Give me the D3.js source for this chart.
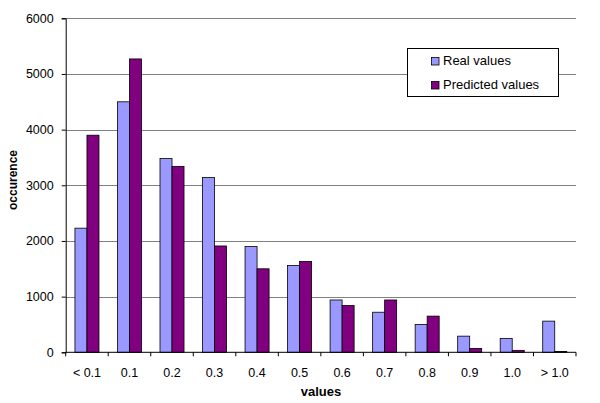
<!DOCTYPE html>
<html>
<head>
<meta charset="utf-8">
<script src="https://cdn.jsdelivr.net/npm/d3@7"></script>
<style>
  body { margin: 0; background: #fff; }
  svg { display: block; font-family: "Liberation Sans", Arial, sans-serif; }
</style>
</head>
<body>
<svg id="chart" width="600" height="403"></svg>
<script>
const categories = ["< 0.1", "0.1", "0.2", "0.3", "0.4", "0.5", "0.6", "0.7", "0.8", "0.9", "1.0", "> 1.0"];
const realValues = [2230, 4500, 3480, 3140, 1900, 1560, 940, 720, 500, 290, 250, 560];
const predictedValues = [3900, 5270, 3340, 1910, 1500, 1630, 840, 940, 650, 70, 35, 15];
const seriesNames = ["Real values", "Predicted values"];
const seriesColors = ["#9999FF", "#800080"];
const yTicks = [0, 1000, 2000, 3000, 4000, 5000, 6000];

const svg = d3.select("#chart");
const margin = { left: 65.7, right: 24, top: 18.3, bottom: 50.7 };
const W = 600, H = 403;
const x0 = margin.left, x1 = W - margin.right;
const yTop = margin.top, yBot = H - margin.bottom;

const x = d3.scaleBand().domain(categories).range([x0, x1]).paddingInner(0.435).paddingOuter(0.2175);
const xs = d3.scaleBand().domain(seriesNames).range([0, x.bandwidth()]);
const y = d3.scaleLinear().domain([0, 6000]).range([yBot, yTop]);

// gridlines
svg.append("g").selectAll("line").data(yTicks.filter(d => d > 0)).join("line")
  .attr("x1", x0).attr("x2", x1)
  .attr("y1", d => Math.round(y(d)) + 0.5).attr("y2", d => Math.round(y(d)) + 0.5)
  .attr("stroke", "#808080").attr("stroke-width", 1);

// bars
const series = [realValues, predictedValues];
series.forEach((vals, si) => {
  svg.append("g").selectAll("rect").data(vals).join("rect")
    .attr("x", (d, i) => x(categories[i]) + xs(seriesNames[si]))
    .attr("width", xs.bandwidth())
    .attr("y", d => y(d))
    .attr("height", d => y(0) - y(d))
    .attr("fill", seriesColors[si])
    .attr("stroke", "#000").attr("stroke-width", 0.8);
});

// y axis
const yAxis = d3.axisLeft(y).tickValues(yTicks).tickSize(4).tickPadding(8).tickFormat(d3.format("d"));
const gy = svg.append("g").attr("transform", `translate(${x0},0)`).call(yAxis);
gy.select(".domain").attr("stroke", "#000");
gy.selectAll(".tick line").attr("stroke", "#000");
gy.selectAll("text").attr("font-size", 12.5).attr("fill", "#000").attr("font-family", "Liberation Sans, Arial, sans-serif");

// x axis with ticks at category boundaries
const gx = svg.append("g").attr("transform", `translate(0,${yBot})`);
gx.append("line").attr("x1", x0).attr("x2", x1).attr("y1", 0).attr("y2", 0).attr("stroke", "#000");
const boundaries = d3.range(categories.length + 1).map(i => x0 + i * (x1 - x0) / categories.length);
gx.selectAll("line.tk").data(boundaries).join("line").attr("class", "tk")
  .attr("x1", d => d).attr("x2", d => d).attr("y1", 0).attr("y2", 4).attr("stroke", "#000");
gx.selectAll("text").data(categories).join("text")
  .attr("x", d => x(d) + x.bandwidth() / 2)
  .attr("y", 25)
  .attr("text-anchor", "middle")
  .attr("font-size", 12.5)
  .attr("fill", "#000")
  .text(d => d);

// axis titles
svg.append("text").attr("x", 321).attr("y", 396).attr("text-anchor", "middle")
  .attr("font-size", 13).attr("font-weight", "bold").text("values");
svg.append("text").attr("transform", "translate(16.5,180) rotate(-90)").attr("text-anchor", "middle")
  .attr("font-size", 12).attr("font-weight", "bold").text("occurence");

// legend
const lg = svg.append("g").attr("transform", "translate(407.5,48.5)");
lg.append("rect").attr("width", 151).attr("height", 48).attr("fill", "#fff").attr("stroke", "#000").attr("stroke-width", 1);
seriesNames.forEach((n, i) => {
  lg.append("rect").attr("x", 24).attr("y", 9 + i * 24).attr("width", 7.5).attr("height", 7.5)
    .attr("fill", seriesColors[i]).attr("stroke", "#000").attr("stroke-width", 0.8);
  lg.append("text").attr("x", 35.5).attr("y", 16.5 + i * 24).attr("font-size", 13).attr("fill", "#000").text(n);
});
</script>
</body>
</html>
